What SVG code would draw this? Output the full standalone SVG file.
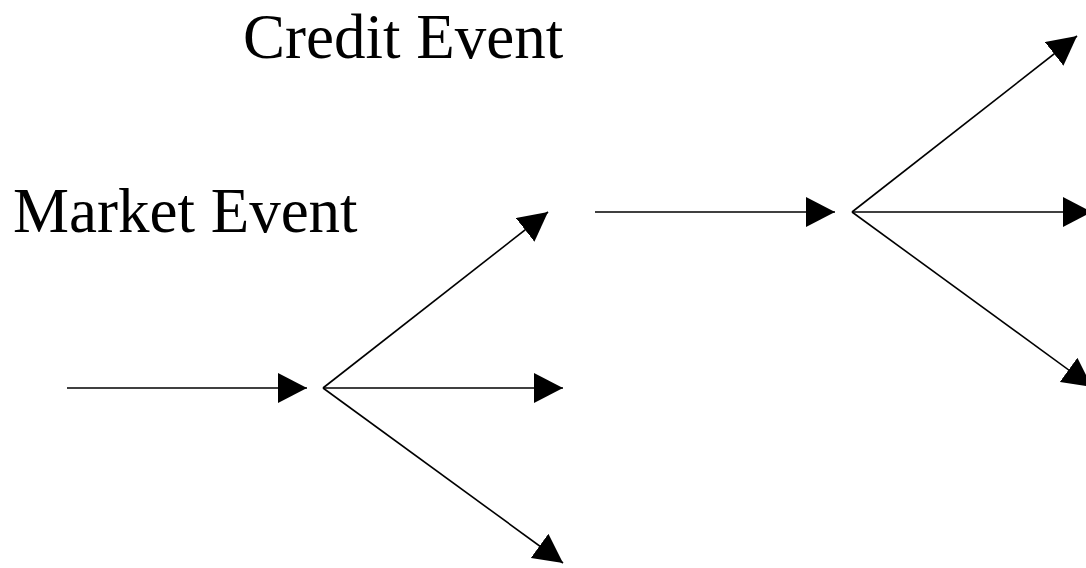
<svg xmlns="http://www.w3.org/2000/svg" width="1086" height="568" viewBox="0 0 1086 568">
<style>
.lbl{font-family:"Liberation Serif","Times New Roman",serif;font-size:63px;fill:#000}
.c{stroke:#000;stroke-width:1.6;fill:none}
</style>
<defs>
<marker id="ah" markerUnits="userSpaceOnUse" markerWidth="30" markerHeight="30" refX="29" refY="15" orient="auto" viewBox="0 0 30 30">
<path d="M0,0 L29,15 L0,30 z" fill="#000"/>
</marker>
</defs>
<rect width="1086" height="568" fill="#fff"/>
<g id="label-credit"><text class="lbl" x="243" y="58">Credit Event</text></g>
<g id="label-market"><text class="lbl" x="13" y="232">Market Event</text></g>
<g id="connectors">
<line class="c" x1="67" y1="388" x2="307" y2="388" marker-end="url(#ah)"/>
<line class="c" x1="323" y1="388" x2="548" y2="212" marker-end="url(#ah)"/>
<line class="c" x1="323" y1="388" x2="563" y2="388" marker-end="url(#ah)"/>
<line class="c" x1="323" y1="388" x2="563" y2="563" marker-end="url(#ah)"/>
<line class="c" x1="595" y1="212" x2="835" y2="212" marker-end="url(#ah)"/>
<line class="c" x1="852" y1="212" x2="1077" y2="36" marker-end="url(#ah)"/>
<line class="c" x1="852" y1="212" x2="1092" y2="212" marker-end="url(#ah)"/>
<line class="c" x1="852" y1="212" x2="1092" y2="387" marker-end="url(#ah)"/>
</g>
</svg>
